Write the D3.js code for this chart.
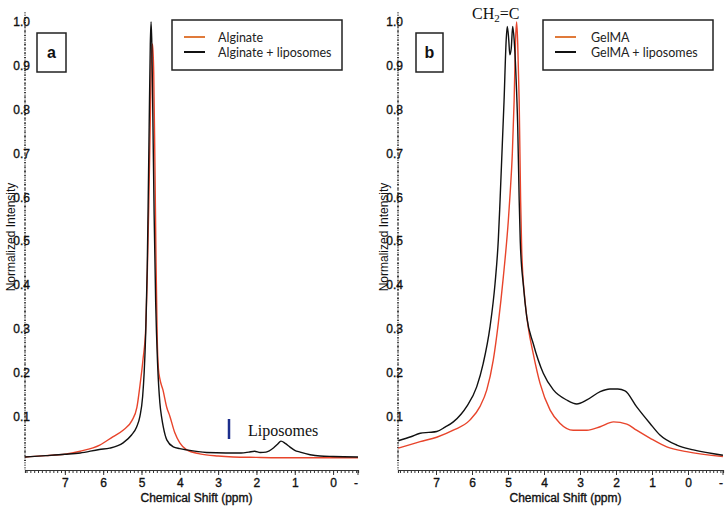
<!DOCTYPE html>
<html><head><meta charset="utf-8">
<script src="https://cdn.jsdelivr.net/npm/d3@7"></script>
<style>body{margin:0;background:#fff}svg{display:block}</style>
</head><body>
<svg id="c" width="727" height="508"></svg>
<script>
// ---------- data ----------
const yTickValues = [0.1,0.2,0.3,0.4,0.5,0.6,0.7,0.8,0.9,1.0];
const yTickLabels = ["0.1","0.2","0.3","0.4","0.5","0.6","0.7","0.8","0.9","1.0"];
const xTickValues = [7,6,5,4,3,2,1,0];
const xTickLabels = ["7","6","5","4","3","2","1","0"];

// Panel a
const seriesA = ["Alginate","Alginate + liposomes"];
const alginatePpm = [8.04,7.5,7.0,6.6,6.09,5.75,5.48,5.25,5.12,5.04,4.96,4.89,4.85,4.81,4.77,4.74,4.71,4.68,4.65,4.62,4.59,4.56,4.52,4.44,4.34,4.26,4.13,4.0,3.82,3.48,3.0,2.61,2.0,1.0,0,-0.65];
const alginateInt = [0.007,0.010,0.013,0.020,0.034,0.053,0.068,0.090,0.120,0.170,0.230,0.300,0.420,0.580,0.780,0.920,0.950,0.880,0.680,0.450,0.280,0.210,0.185,0.160,0.120,0.100,0.062,0.039,0.023,0.014,0.009,0.007,0.006,0.005,0.005,0.005];
const alginateLipoPpm = [8.04,7.5,7.0,6.6,6.1,5.83,5.48,5.26,5.13,5.04,4.97,4.93,4.89,4.85,4.83,4.80,4.77,4.75,4.73,4.70,4.67,4.63,4.58,4.52,4.47,4.43,4.34,4.17,4.0,3.82,3.3,2.8,2.4,2.2,2.05,1.9,1.75,1.55,1.45,1.36,1.25,1.13,1.0,0.86,0.6,0.34,0,-0.65];
const alginateLipoInt = [0.007,0.010,0.013,0.016,0.024,0.027,0.039,0.057,0.075,0.100,0.145,0.200,0.290,0.440,0.560,0.760,0.950,1.000,0.950,0.760,0.560,0.360,0.220,0.130,0.095,0.075,0.046,0.030,0.026,0.023,0.017,0.016,0.016,0.018,0.020,0.017,0.018,0.028,0.036,0.043,0.038,0.030,0.022,0.018,0.012,0.009,0.008,0.007];

// Panel b
const seriesB = ["GelMA","GelMA + liposomes"];
const gelmaPpm = [8.05,7.44,6.98,6.52,6.06,5.78,5.59,5.41,5.27,5.13,4.99,4.94,4.88,4.83,4.79,4.76,4.73,4.69,4.65,4.62,4.53,4.44,4.30,4.11,3.83,3.56,3.19,2.81,2.44,2.07,1.70,1.43,1.06,0.59,0.04,-0.97];
const gelmaInt = [0.027,0.042,0.052,0.068,0.091,0.122,0.160,0.228,0.312,0.418,0.548,0.610,0.700,0.820,0.960,1.000,0.950,0.820,0.594,0.480,0.365,0.304,0.243,0.175,0.114,0.084,0.068,0.068,0.076,0.087,0.082,0.068,0.050,0.030,0.019,0.008];
const gelmaLipoPpm = [8.05,7.7,7.44,7.2,6.98,6.75,6.52,6.3,6.15,5.87,5.69,5.5,5.36,5.27,5.22,5.11,5.05,5.02,4.98,4.95,4.91,4.87,4.83,4.78,4.73,4.69,4.66,4.57,4.48,4.30,4.02,3.74,3.37,3.09,2.81,2.44,2.17,1.95,1.75,1.43,1.06,0.78,0.31,-0.15,-0.97];
const gelmaLipoInt = [0.044,0.053,0.061,0.063,0.065,0.075,0.087,0.105,0.122,0.167,0.220,0.304,0.403,0.502,0.594,0.820,0.960,0.990,0.960,0.925,0.940,0.990,0.960,0.880,0.760,0.594,0.500,0.396,0.327,0.266,0.198,0.160,0.137,0.128,0.137,0.156,0.162,0.162,0.158,0.122,0.084,0.057,0.034,0.023,0.011];

// ---------- drawing ----------
const svg = d3.select("#c");
const RED = "#e8442b", BLACK = "#111", LEG_OR = "#e07a3a";
const AX = "Liberation Sans, Arial, sans-serif";

function heavy(s){ s.attr("font-family",AX).attr("font-size",12).attr("fill","#111").attr("stroke","#111").attr("stroke-width",0.35); }

function panel(cfg){
  const g = svg.append("g");
  const x = d3.scaleLinear().domain(cfg.xDomain).range(cfg.xRange);
  const y = d3.scaleLinear().domain([0,1]).range([460,22]);
  const axisY = 470, axisTop = 12;
  const x0 = cfg.xRange[0];

  // y axis line + minor ticks
  g.append("line").attr("x1",x0).attr("x2",x0).attr("y1",axisTop).attr("y2",axisY)
    .attr("stroke","#333").attr("stroke-width",1).attr("stroke-dasharray","1.5,1");
  const yMinor = d3.range(0,1.015,0.01);
  g.append("g").attr("transform",`translate(${x0},0)`)
    .call(d3.axisLeft(y).tickValues(yMinor).tickSize(2).tickFormat(""))
    .call(s=>s.select(".domain").remove())
    .call(s=>s.selectAll("line").attr("stroke","#333").attr("transform","translate(1,0)"));
  g.append("g").attr("transform",`translate(${x0},0)`)
    .call(d3.axisLeft(y).tickValues(yTickValues).tickSize(0).tickPadding(-5)
      .tickFormat((d,i)=>yTickLabels[i]))
    .call(s=>s.select(".domain").remove())
    .call(s=>s.selectAll("text").call(heavy));

  // x axis
  g.append("g").attr("transform",`translate(0,${axisY})`)
    .call(d3.axisBottom(x).tickValues(d3.range(-9,81).map(v=>v/10).filter(v=>v<=cfg.xDomain[0]&&v>=cfg.xDomain[1])).tickSize(3).tickFormat(""))
    .call(s=>s.select(".domain").attr("stroke","#333").attr("stroke-width",1.2))
    .call(s=>s.selectAll("line").attr("stroke","#333"));
  g.append("g").attr("transform",`translate(0,${axisY})`)
    .call(d3.axisBottom(x).tickValues(xTickValues).tickSize(5).tickPadding(3)
      .tickFormat((d,i)=>xTickLabels[i]))
    .call(s=>s.select(".domain").remove())
    .call(s=>s.selectAll("line").attr("stroke","#333"))
    .call(s=>s.selectAll("text").call(heavy));
  g.append("line").attr("x1",cfg.xRange[1]).attr("x2",cfg.xRange[1]).attr("y1",axisY).attr("y2",axisY+5).attr("stroke","#333");
  g.append("text").attr("x",cfg.xRange[1]-2).attr("y",axisY+17).attr("text-anchor","middle").call(heavy).text("-");

  // titles
  g.append("text").attr("x",(cfg.xRange[0]+cfg.xRange[1])/2+5).attr("y",502).attr("text-anchor","middle")
    .call(heavy).text("Chemical Shift (ppm)");
  g.append("text").attr("transform",`translate(${x0-10},237) rotate(-90)`).attr("text-anchor","middle")
    .attr("font-family",AX).attr("font-size",12).attr("fill","#111").text("Normalized Intensity");

  // curves
  const line = d3.line().x(d=>x(d[0])).y(d=>y(d[1])).curve(d3.curveMonotoneX);
  cfg.series.forEach(s=>{
    g.append("path").datum(d3.zip(s.ppm,s.val)).attr("d",line)
      .attr("fill","none").attr("stroke",s.color).attr("stroke-width",1.4).attr("stroke-linejoin","round");
  });

  // panel letter box
  g.append("rect").attr("x",cfg.box[0]).attr("y",33).attr("width",cfg.box[1]).attr("height",39)
    .attr("fill","#fff").attr("stroke","#222").attr("stroke-width",1.5);
  g.append("text").attr("x",cfg.box[0]+cfg.box[1]/2).attr("y",58).attr("text-anchor","middle")
    .attr("font-family",AX).attr("font-weight","bold").attr("font-size",16).attr("fill","#111").text(cfg.letter);

  // legend
  const L = cfg.legend;
  g.append("rect").attr("x",L.x).attr("y",20).attr("width",L.w).attr("height",50)
    .attr("fill","#fff").attr("stroke","#222").attr("stroke-width",1.5);
  cfg.names.forEach((n,i)=>{
    const yy = 37 + i*15;
    g.append("line").attr("x1",L.x+L.lx).attr("x2",L.x+L.lx+21).attr("y1",yy).attr("y2",yy)
      .attr("stroke", i===0?LEG_OR:BLACK).attr("stroke-width",2);
    g.append("text").attr("x",L.x+L.tx).attr("y",yy+4.5).attr("font-family","Lato, 'Open Sans', sans-serif")
      .attr("font-size",12.5).attr("fill","#222").text(n);
  });
  return {g,x,y};
}

const pa = panel({
  xDomain:[8.04,-0.65], xRange:[25,358], letter:"a", box:[37,29],
  legend:{x:172,w:170,lx:12,tx:46}, names:seriesA,
  series:[{ppm:alginatePpm,val:alginateInt,color:RED},{ppm:alginateLipoPpm,val:alginateLipoInt,color:BLACK}]
});
const pb = panel({
  xDomain:[8.056,-0.972], xRange:[398,723], letter:"b", box:[416,27],
  legend:{x:543,w:170,lx:12,tx:48}, names:seriesB,
  series:[{ppm:gelmaPpm,val:gelmaInt,color:RED},{ppm:gelmaLipoPpm,val:gelmaLipoInt,color:BLACK}]
});

// annotations
pa.g.append("line").attr("x1",229).attr("x2",229).attr("y1",419).attr("y2",439)
  .attr("stroke","#1c2e8c").attr("stroke-width",2.5);
pa.g.append("text").attr("x",248).attr("y",436).attr("font-family","Liberation Serif, 'Times New Roman', serif")
  .attr("font-size",16).attr("fill","#111").text("Liposomes");
const ch = pb.g.append("text").attr("x",472).attr("y",19).attr("font-family","Liberation Serif, 'Times New Roman', serif")
  .attr("font-size",16).attr("fill","#111");
ch.append("tspan").text("CH");
ch.append("tspan").attr("font-size",11).attr("dy",3).text("2");
ch.append("tspan").attr("dy",-3).text("=C");
</script>
</body></html>
